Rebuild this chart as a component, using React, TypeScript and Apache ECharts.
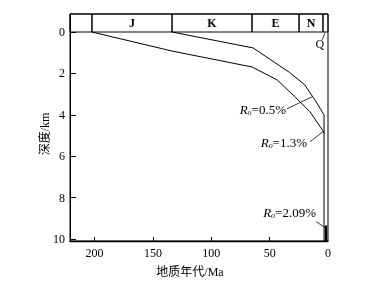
import React, { useEffect, useRef } from "react";
import * as echarts from "echarts";

// Iso-Ro curves: [age Ma, depth km]
const ro05: [number, number][] = [
  [133.6, 0], [64.2, 0.77], [33, 1.95], [20, 2.55], [11, 3.3], [3.4, 4.0], [3.4, 10.1],
];
const ro13: [number, number][] = [
  [202.2, 0], [133.6, 0.92], [65.1, 1.69], [43.7, 2.31], [28.3, 3.13], [15.4, 3.86], [4.3, 4.77], [3.4, 4.9],
];
const ro209: [number, number][] = [
  [1.7, 9.35], [1.7, 10.1],
];

// Stratigraphic units: name, start Ma, end Ma
const periodNames = ["", "J", "K", "E", "N", "Q"];
const periodStart = [221, 202.2, 133.6, 65.1, 24.8, 4.3];
const periodEnd = [202.2, 133.6, 65.1, 24.8, 4.3, 0];

const yTicks = [0, 2, 4, 6, 8, 10];
const xLabels = [0, 50, 100, 150, 200];
const xTicks = [50, 100, 150, 200];

const FONT = "Liberation Serif, Times New Roman, serif";
const CJK = "Liberation Serif, Noto Sans CJK SC, serif";

const roRich = {
  r: { fontFamily: FONT, fontStyle: "italic", fontSize: 13, color: "#000" },
  s: { fontFamily: FONT, fontStyle: "italic", fontSize: 8, color: "#000", verticalAlign: "bottom", padding: [6, 0, 0, 0] },
  t: { fontFamily: FONT, fontSize: 13, color: "#000" },
};

export default function App() {
  const ref = useRef<HTMLDivElement>(null);
  useEffect(() => {
    if (!ref.current) return;
    const chart = echarts.init(ref.current, null, { renderer: "svg" });
    const barTop = -0.87;
    const areas = periodNames.map((n, i) => [
      { xAxis: periodStart[i], yAxis: barTop, name: n },
      { xAxis: periodEnd[i], yAxis: 0 },
    ]);
    const lineStyle = { color: "#000", width: 1 };
    const leader = (a: [number, number], b: [number, number]) => [
      { coord: a },
      { coord: b },
    ];
    const roLabel = (coord: [number, number], val: string) => ({
      coord,
      symbolSize: 0,
      label: {
        show: true,
        position: "left",
        distance: 1,
        formatter: `{r|R}{s|o}{t|=${val}}`,
        rich: roRich,
      },
    });
    chart.setOption({
      animation: false,
      grid: {
        left: 70, right: 38, top: 14, bottom: 45,
        show: true, borderColor: "#000", borderWidth: 1, backgroundColor: "transparent",
      },
      xAxis: {
        type: "value",
        inverse: true,
        min: 0,
        max: 221,
        splitLine: { show: false },
        axisLine: { onZero: false, lineStyle: { color: "#000", width: 1.3 } },
        axisTick: { inside: true, length: 4, customValues: xTicks, lineStyle: { color: "#000" } },
        axisLabel: { customValues: xLabels, color: "#000", fontFamily: FONT, fontSize: 12, margin: 6 },
      },
      yAxis: {
        type: "value",
        inverse: true,
        min: barTop,
        max: 10.1,
        splitLine: { show: false },
        axisLine: { onZero: false, lineStyle: { color: "#000", width: 1 } },
        axisTick: { inside: true, length: 6, customValues: yTicks, lineStyle: { color: "#000" } },
        axisLabel: { customValues: yTicks, color: "#000", fontFamily: FONT, fontSize: 12, margin: 5 },
      },
      graphic: [
        {
          type: "text", x: 45, y: 134, rotation: Math.PI / 2,
          style: { text: "深度/km", font: `12px ${CJK}`, fill: "#000", align: "center", verticalAlign: "middle" },
        },
        {
          type: "text", x: 190, y: 272,
          style: { text: "地质年代/Ma", font: `12px ${CJK}`, fill: "#000", align: "center", verticalAlign: "middle" },
        },
      ],
      series: [
        {
          type: "line", data: ro05, symbol: "none", lineStyle, silent: true,
          markArea: {
            silent: true,
            itemStyle: { color: "rgba(0,0,0,0)", borderColor: "#000", borderWidth: 1 },
            label: { show: true, position: "inside", color: "#000", fontFamily: FONT, fontSize: 12, fontWeight: "bold",
              formatter: (p: any) => (p.name === "Q" ? "" : p.name) },
            data: areas,
          },
          markPoint: {
            silent: true,
            symbol: "circle",
            itemStyle: { color: "rgba(0,0,0,0)" },
            data: [
              roLabel([35.1, 3.76], "0.5%"),
              roLabel([17.1, 5.35], "1.3%"),
              roLabel([9.4, 8.72], "2.09%"),
              {
                coord: [7.0, 0.6], symbolSize: 0,
                label: { show: true, position: "inside", formatter: "Q", color: "#000", fontFamily: FONT, fontSize: 12 },
              },
            ],
          },
          markLine: {
            silent: true,
            symbol: ["none", "none"],
            label: { show: false },
            lineStyle: { color: "#000", width: 0.8, type: "solid" },
            data: [
              leader([35.1, 3.71], [13.5, 3.13]),
              leader([15.4, 5.3], [4.3, 4.82]),
              leader([10.3, 9.16], [2.6, 9.45]),
              leader([5.1, 0.38], [2.6, 0.05]),
            ],
          },
        },
        { type: "line", data: ro13, symbol: "none", lineStyle, silent: true },
        { type: "line", data: ro209, symbol: "none", lineStyle: { color: "#000", width: 2.5 }, silent: true },
      ],
    });
    return () => chart.dispose();
  }, []);
  return <div ref={ref} style={{ position: "fixed", left: 0, top: 0, width: 366, height: 286 }} />;
}
